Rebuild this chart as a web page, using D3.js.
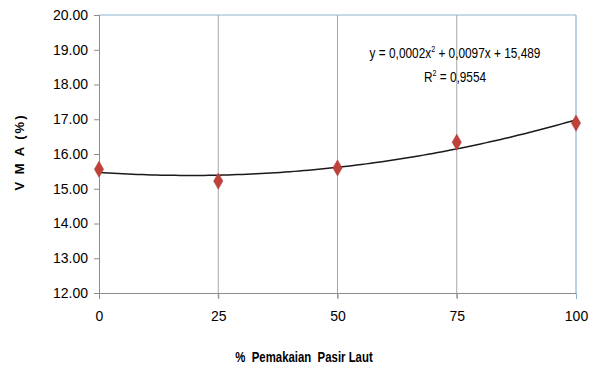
<!DOCTYPE html>
<html>
<head>
<meta charset="utf-8">
<script src="https://cdn.jsdelivr.net/npm/d3@7"></script>
<style>
  body { margin: 0; background: #fff; }
  text { font-family: "Liberation Sans", Arial, sans-serif; fill: #000; }
</style>
</head>
<body>
<svg width="591" height="371"></svg>
<script>
// data
var pasir = [0, 25, 50, 75, 100];
var vma = [15.56, 15.22, 15.60, 16.34, 16.89];
var yTicks = [12, 13, 14, 15, 16, 17, 18, 19, 20];
var xTicks = [0, 25, 50, 75, 100];

var svg = d3.select("svg");

var x = d3.scaleLinear().domain([0, 100]).range([99, 576]);
var y = d3.scaleLinear().domain([12, 20]).range([293, 15]);

// vertical grid lines
svg.selectAll("line.grid").data(xTicks.slice(1, 4))
  .enter().append("line")
  .attr("class", "grid")
  .attr("x1", function(d){ return x(d) }).attr("x2", function(d){ return x(d) })
  .attr("y1", y(20)).attr("y2", y(12) + 5)
  .attr("stroke", "#a6a6a6").attr("stroke-width", 1);

// top and right border
svg.append("line").attr("x1", x(0)).attr("x2", x(100)).attr("y1", y(20)).attr("y2", y(20))
  .attr("stroke", "#8eb4cf").attr("stroke-width", 1.2);
svg.append("line").attr("x1", x(100)).attr("x2", x(100)).attr("y1", y(20)).attr("y2", y(12))
  .attr("stroke", "#8eb4cf").attr("stroke-width", 1.2);

// y axis
var yAxis = svg.append("g").attr("transform", "translate(" + x(0) + ",0)")
  .call(d3.axisLeft(y).tickValues(yTicks).tickSize(5).tickPadding(6)
        .tickFormat(function(d){ return d.toFixed(2) }));
yAxis.selectAll("path, line").attr("stroke", "#8c8c8c");
yAxis.selectAll("text").style("font-size", "14px");

// x axis
var xAxis = svg.append("g").attr("transform", "translate(0," + y(12) + ")")
  .call(d3.axisBottom(x).tickValues(xTicks).tickSize(6).tickSizeOuter(0).tickPadding(12));
xAxis.selectAll("path, line").attr("stroke", "#8c8c8c");
xAxis.select(".tick:last-of-type line").attr("stroke", "#8eb4cf");
xAxis.selectAll("text").style("font-size", "14px");

// quadratic trendline fitted from the points
function fit(xs, ys) {
  var s = [0,0,0,0,0], t = [0,0,0];
  xs.forEach(function(xv, i){
    for (var k = 0; k < 5; k++) s[k] += Math.pow(xv, k);
    for (var k2 = 0; k2 < 3; k2++) t[k2] += Math.pow(xv, k2) * ys[i];
  });
  var A = [[s[0], s[1], s[2], t[0]], [s[1], s[2], s[3], t[1]], [s[2], s[3], s[4], t[2]]];
  for (var i = 0; i < 3; i++) {
    for (var j = i + 1; j < 3; j++) {
      var f = A[j][i] / A[i][i];
      for (var k = i; k < 4; k++) A[j][k] -= f * A[i][k];
    }
  }
  var c = [0,0,0];
  for (var i2 = 2; i2 >= 0; i2--) {
    var sum = A[i2][3];
    for (var k3 = i2 + 1; k3 < 3; k3++) sum -= A[i2][k3] * c[k3];
    c[i2] = sum / A[i2][i2];
  }
  return c;
}
var coef = fit(pasir, vma);
var curve = d3.range(0, 100.5, 1).map(function(v){
  return [v, coef[0] + coef[1] * v + coef[2] * v * v];
});
svg.append("path").datum(curve)
  .attr("fill", "none").attr("stroke", "#1a1a1a").attr("stroke-width", 1.5)
  .attr("d", d3.line().x(function(d){ return x(d[0]) }).y(function(d){ return y(d[1]) }));

// markers
svg.selectAll("path.pt").data(vma)
  .enter().append("path")
  .attr("class", "pt")
  .attr("d", d3.symbol().type(d3.symbolDiamond).size(75))
  .attr("transform", function(d, i){ return "translate(" + x(pasir[i]) + "," + y(d) + ")" })
  .attr("fill", "#c0403a").attr("stroke", "#b23a35").attr("stroke-width", 0.5);

// equation (squeezed a bit, the original font is a narrow one)
var eq = svg.append("text").attr("transform", "translate(455,58) scale(0.79,1)")
  .attr("text-anchor", "middle").style("font-size", "15px");
eq.append("tspan").text("y = 0,0002x");
eq.append("tspan").attr("dy", -6).style("font-size", "9px").text("2");
eq.append("tspan").attr("dy", 6).text(" + 0,0097x + 15,489");

var r2 = svg.append("text").attr("transform", "translate(455,82) scale(0.79,1)")
  .attr("text-anchor", "middle").style("font-size", "15px");
r2.append("tspan").text("R");
r2.append("tspan").attr("dy", -6).style("font-size", "9px").text("2");
r2.append("tspan").attr("dy", 6).text(" = 0,9554");

// axis titles
svg.append("text").attr("transform", "translate(24,152) rotate(-90)")
  .attr("text-anchor", "middle").style("font-size", "13px").style("font-weight", "bold")
  .style("letter-spacing", "2px")
  .text("V M A (%)");
svg.append("text").attr("transform", "translate(304,362) scale(0.76,1)")
  .attr("text-anchor", "middle").style("font-size", "15px").style("font-weight", "bold")
  .text("% \u00a0Pemakaian \u00a0Pasir Laut");
</script>
</body>
</html>
